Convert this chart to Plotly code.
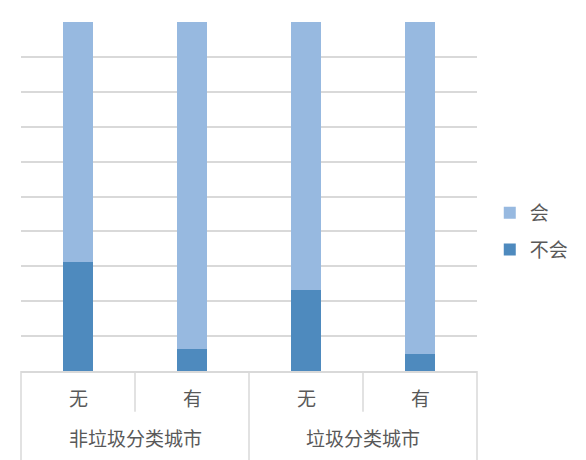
import plotly.graph_objects as go

outer = ["非垃圾分类城市", "非垃圾分类城市", "垃圾分类城市", "垃圾分类城市"]
inner = ["无", "有", "无", "有"]
outer_groups = ["非垃圾分类城市", "垃圾分类城市"]
series_names = ["不会", "会"]
buhui = [31.1, 6.3, 23.3, 4.9]
hui = [68.9, 93.7, 76.7, 95.1]
colors = {"不会": "#4E8ABE", "会": "#97B9E0"}
legend_rank = {"会": 1, "不会": 2}

font_family = "Noto Sans CJK SC"
text_color = "#595959"
grid_color = "#D9D9D9"

fig = go.Figure()
for name, vals in zip(series_names, [buhui, hui]):
    fig.add_trace(go.Bar(
        x=[outer, inner], y=vals, name=name,
        marker=dict(color=colors[name], line=dict(width=0)),
        legendgroup=name, legendrank=legend_rank[name],
    ))

fig.update_layout(
    width=586, height=460,
    barmode="stack", bargap=0.73,
    margin=dict(l=13, r=117, t=13.5, b=97, autoexpand=False),
    plot_bgcolor="white", paper_bgcolor="white",
    font=dict(family=font_family, size=19, color=text_color),
    legend=dict(
        x=1.028, xanchor="left", y=0.40, yanchor="middle",
        traceorder="grouped", tracegroupgap=9,
        font=dict(size=19, color=text_color),
        bgcolor="rgba(0,0,0,0)",
    ),
    showlegend=True,
)
fig.update_yaxes(
    range=[0, 100], dtick=10, showticklabels=False,
    showgrid=True, gridcolor=grid_color, gridwidth=1.5,
    zeroline=False, showline=False, ticks="", automargin=False,
)
fig.update_xaxes(
    type="multicategory",
    showline=True, linecolor=grid_color, linewidth=1.5,
    showdividers=False, showticklabels=False,
    ticks="", showgrid=False, automargin=False,
)

n = len(inner)
# category labels (inner and outer level) below the axis
for i, lab in enumerate(inner):
    fig.add_annotation(text=lab, xref="paper", yref="paper",
                       x=(i + 0.5) / n, y=-0.075, showarrow=False,
                       xanchor="center", yanchor="middle",
                       font=dict(size=19, color=text_color, family=font_family))
ng = len(outer_groups)
for j, lab in enumerate(outer_groups):
    fig.add_annotation(text=lab, xref="paper", yref="paper",
                       x=(j + 0.5) / ng, y=-0.19, showarrow=False,
                       xanchor="center", yanchor="middle",
                       font=dict(size=19, color=text_color, family=font_family))
# inner-category separators
for i in range(1, n):
    if i % (n // ng) != 0:
        fig.add_shape(type="line", xref="paper", yref="paper",
                      x0=i / n, x1=i / n, y0=0, y1=-0.117,
                      line=dict(color=grid_color, width=1.5))
# outer-group separators
for j in range(ng + 1):
    fig.add_shape(type="line", xref="paper", yref="paper",
                  x0=j / ng, x1=j / ng, y0=0, y1=-0.28,
                  line=dict(color=grid_color, width=1.5))

fig.write_html("out.html")
